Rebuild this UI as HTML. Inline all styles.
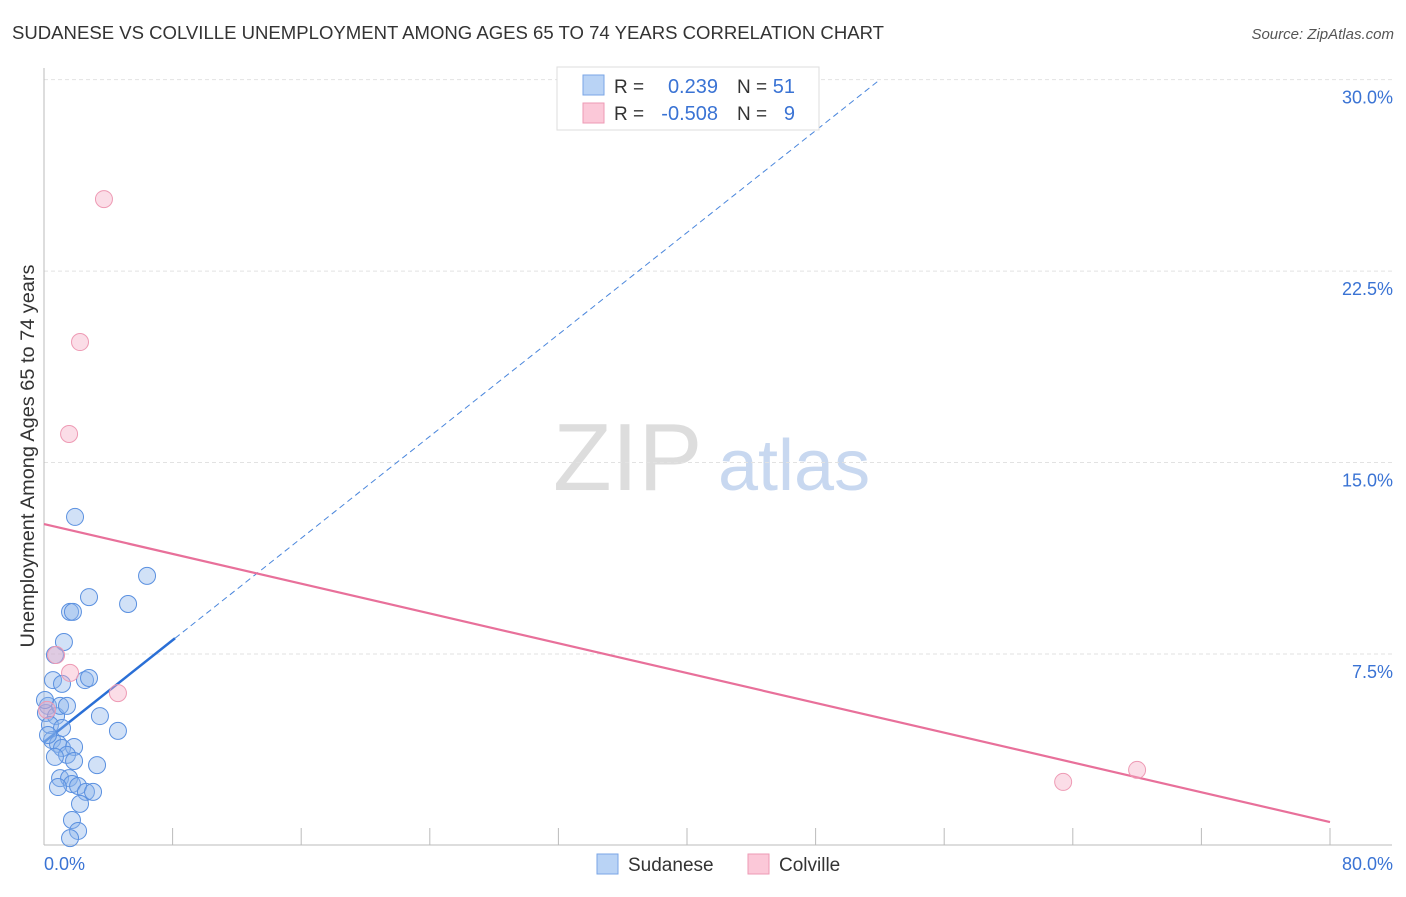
<!DOCTYPE html>
<html><head><meta charset="utf-8"><style>
body{margin:0;background:#fff;font-family:"Liberation Sans",sans-serif;}
svg text{font-family:"Liberation Sans",sans-serif;}
</style></head><body>
<svg id="chart" width="1406" height="892" viewBox="0 0 1406 892">
<text x="12" y="39" font-size="18" fill="#333" textLength="872" lengthAdjust="spacingAndGlyphs">SUDANESE VS COLVILLE UNEMPLOYMENT AMONG AGES 65 TO 74 YEARS CORRELATION CHART</text>
<text x="1394" y="39" font-size="15" fill="#555" font-style="italic" text-anchor="end">Source: ZipAtlas.com</text>
<text x="34" y="456" font-size="19" fill="#333" text-anchor="middle" textLength="383" lengthAdjust="spacingAndGlyphs" transform="rotate(-90 34 456)">Unemployment Among Ages 65 to 74 years</text>
<g><text x="553" y="490" font-size="96" fill="#ddd" font-family="Liberation Serif">ZIP</text><text x="718" y="490" font-size="72" fill="#c8d8f0">atlas</text></g>
<g id="grid"></g><g id="axes"></g><g id="lines"></g><g id="pts"></g>
<g>
<rect x="557" y="67" width="262" height="63" fill="#fff" stroke="#ddd"/>
<rect x="583" y="75" width="21" height="20" fill="#b9d3f5" stroke="#7aa6e6"/>
<rect x="583" y="103" width="21" height="20" fill="#fbc8d8" stroke="#ee9ab4"/>
<text x="614" y="93" font-size="19" fill="#333">R =</text><text x="718" y="93" font-size="20" fill="#3a73d4" text-anchor="end">0.239</text>
<text x="737" y="93" font-size="19" fill="#333">N =</text><text x="795" y="93" font-size="20" fill="#3a73d4" text-anchor="end">51</text>
<text x="614" y="120" font-size="19" fill="#333">R =</text><text x="718" y="120" font-size="20" fill="#3a73d4" text-anchor="end">-0.508</text>
<text x="737" y="120" font-size="19" fill="#333">N =</text><text x="795" y="120" font-size="20" fill="#3a73d4" text-anchor="end">9</text>
</g>
<g>
<rect x="597" y="854" width="21" height="20" fill="#b9d3f5" stroke="#7aa6e6"/>
<text x="628" y="871" font-size="19" fill="#333">Sudanese</text>
<rect x="748" y="854" width="21" height="20" fill="#fbc8d8" stroke="#ee9ab4"/>
<text x="779" y="871" font-size="19" fill="#333">Colville</text>
</g>
</svg>
<script>
const yTicks=[7.5,15,22.5,30];
const yTickLabels=["7.5%","15.0%","22.5%","30.0%"];
const xTicks=[8,16,24,32,40,48,56,64,72,80];
const sudX=[1.93,6.41,2.8,5.23,1.62,1.8,1.24,0.68,0.56,1.12,2.55,2.8,3.48,4.6,0.25,0.12,0.75,1.0,1.43,0.37,1.12,0.5,0.87,1.12,1.87,1.43,0.68,1.87,3.3,1.0,1.56,1.74,2.12,0.87,2.61,3.05,2.24,1.74,2.12,1.62,0.06,0.25];
const sudY=[12.87,10.56,9.73,9.46,9.15,9.15,7.97,7.46,6.48,6.33,6.48,6.56,5.07,4.49,5.47,5.19,5.07,5.47,5.47,4.72,4.6,4.13,3.98,3.82,3.86,3.55,3.47,3.31,3.15,2.64,2.64,2.41,2.33,2.29,2.1,2.1,1.63,1.0,0.57,0.29,5.7,4.33];
const colX=[3.73,2.24,1.56,0.75,1.62,4.6,63.4,68.0,0.19];
const colY=[25.32,19.72,16.12,7.46,6.76,5.97,2.49,2.96,5.31];
const sudLine=[4.05,0.499];
const colLine=[12.59,-0.1459];
const X=v=>44+v*16.075, Y=v=>845.5-v*25.53;
const NS="http://www.w3.org/2000/svg";
function mk(tag,attrs,parent){const e=document.createElementNS(NS,tag);for(const k in attrs)e.setAttribute(k,attrs[k]);document.getElementById(parent).appendChild(e);return e;}
yTicks.forEach((t,i)=>{
 const g=mk('line',{x1:44,x2:1392,y1:Y(t),y2:Y(t),stroke:'#e2e2e2','stroke-dasharray':'4 3'},'grid');
 
 
 const l=mk('text',{x:1393,y:Y(t)+24,'font-size':18,fill:'#3a73d4','text-anchor':'end'},'grid');
 l.textContent=yTickLabels[i];
 
 
});
const ax=mk('line',{x1:44,x2:44,y1:68,y2:845,stroke:'#bbb'},'axes');


const bx=mk('line',{x1:44,x2:1392,y1:845,y2:845,stroke:'#bbb'},'axes');


xTicks.forEach(t=>{const e=mk('line',{x1:X(t),x2:X(t),y1:828,y2:845,stroke:'#bbb'},'axes');
 
 });
const x0=mk('text',{x:44,y:870,'font-size':18,fill:'#3a73d4'},'axes');x0.textContent='0.0%';


const x1=mk('text',{x:1393,y:870,'font-size':18,fill:'#3a73d4','text-anchor':'end'},'axes');x1.textContent='80.0%';


const xe=(30-sudLine[0])/sudLine[1];
const d=mk('line',{x1:X(8.15),y1:Y(sudLine[0]+sudLine[1]*8.15),x2:X(xe),y2:Y(30),stroke:'#4a86dc','stroke-width':1,'stroke-dasharray':'6 4'},'lines');


const s=mk('line',{x1:X(0),y1:Y(sudLine[0]),x2:X(8.15),y2:Y(sudLine[0]+sudLine[1]*8.15),stroke:'#2a6fd6','stroke-width':2.5},'lines');


const c=mk('line',{x1:X(0),y1:Y(colLine[0]),x2:X(80),y2:Y(colLine[0]+colLine[1]*80),stroke:'#e8709a','stroke-width':2.2},'lines');


sudX.forEach((v,i)=>{const p=mk('circle',{cx:X(v),cy:Y(sudY[i]),r:8.5,fill:'rgba(140,180,235,0.4)',stroke:'#5a90e0','stroke-width':1},'pts');
 
 });
colX.forEach((v,i)=>{const p=mk('circle',{cx:X(v),cy:Y(colY[i]),r:8.5,fill:'rgba(245,170,195,0.4)',stroke:'#ee9ab4','stroke-width':1},'pts');
 
 });
</script>
</body></html>
